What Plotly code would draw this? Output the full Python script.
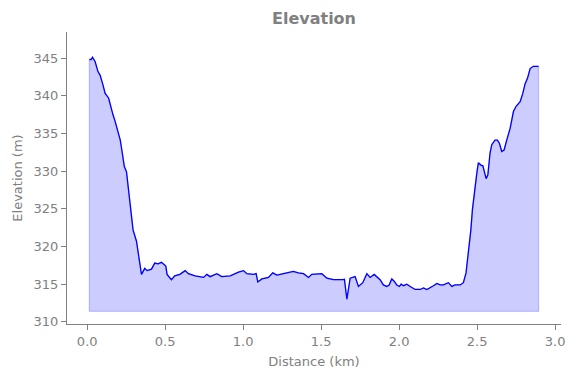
import plotly.graph_objects as go

distance_km = [0.014, 0.025, 0.034, 0.051, 0.069, 0.083, 0.100, 0.115, 0.137, 0.147,
               0.165, 0.179, 0.194, 0.212, 0.222, 0.228, 0.238, 0.252, 0.273, 0.294,
               0.316, 0.348, 0.369, 0.384, 0.412, 0.433, 0.454, 0.476, 0.504, 0.512,
               0.540, 0.561, 0.594, 0.628, 0.649, 0.692, 0.746, 0.767, 0.788, 0.831,
               0.863, 0.917, 0.970, 1.002, 1.024, 1.066, 1.083, 1.094, 1.120, 1.162,
               1.190, 1.216, 1.237, 1.280, 1.322, 1.354, 1.387, 1.419, 1.440, 1.504,
               1.537, 1.579, 1.643, 1.649, 1.665, 1.686, 1.718, 1.739, 1.767, 1.793,
               1.814, 1.840, 1.860, 1.878, 1.899, 1.921, 1.936, 1.953, 1.968, 1.985,
               2.002, 2.013, 2.028, 2.049, 2.071, 2.103, 2.135, 2.156, 2.178, 2.199,
               2.220, 2.242, 2.263, 2.284, 2.316, 2.338, 2.359, 2.391, 2.412, 2.429,
               2.438, 2.449, 2.460, 2.470, 2.483, 2.498, 2.508, 2.524, 2.537, 2.558,
               2.569, 2.583, 2.594, 2.615, 2.630, 2.643, 2.658, 2.673, 2.690, 2.712,
               2.733, 2.750, 2.776, 2.793, 2.808, 2.823, 2.840, 2.861, 2.894]

elevation_m = [344.8, 344.8, 345.1, 344.5, 343.2, 342.7, 341.5, 340.3, 339.7, 338.8,
               337.5, 336.6, 335.5, 334.1, 332.8, 331.9, 330.6, 329.9, 326.2, 322.2,
               320.7, 316.3, 317.1, 316.8, 317.0, 317.8, 317.7, 317.9, 317.4, 316.3,
               315.6, 316.1, 316.3, 316.8, 316.4, 316.1, 315.9, 316.3, 316.0, 316.4,
               316.0, 316.1, 316.6, 316.8, 316.4, 316.3, 316.4, 315.3, 315.7, 315.9,
               316.5, 316.2, 316.3, 316.5, 316.7, 316.5, 316.4, 315.9, 316.3, 316.4,
               315.8, 315.6, 315.6, 315.7, 313.0, 315.8, 316.0, 314.7, 315.2, 316.4,
               315.9, 316.3, 315.9, 315.6, 314.9, 314.7, 314.9, 315.7, 315.4, 314.9,
               314.7, 315.0, 314.8, 315.0, 314.7, 314.3, 314.3, 314.5, 314.3, 314.5,
               314.8, 315.1, 314.9, 314.9, 315.2, 314.7, 314.9, 314.9, 315.2, 316.5,
               318.2, 320.0, 322.2, 324.9, 327.5, 329.7, 331.1, 330.8, 330.7, 329.0,
               329.5, 332.4, 333.5, 334.1, 334.1, 333.7, 332.6, 332.8, 334.1, 335.7,
               337.9, 338.6, 339.2, 340.3, 341.6, 342.3, 343.6, 343.9, 343.9]

fill_base_m = 311.4
x_ticks = [0.0, 0.5, 1.0, 1.5, 2.0, 2.5, 3.0]
y_ticks = [310, 315, 320, 325, 330, 335, 340, 345]

gray = "#808080"
font_family = "DejaVu Sans"

fig = go.Figure()

poly_x = distance_km + [distance_km[-1], distance_km[0], distance_km[0]]
poly_y = elevation_m + [fill_base_m, fill_base_m, elevation_m[0]]
fig.add_trace(go.Scatter(
    x=poly_x, y=poly_y, mode="lines", fill="toself",
    fillcolor="rgba(0,0,255,0.2)",
    line=dict(color="rgba(0,0,255,0.2)", width=1.3),
    hoverinfo="skip", showlegend=False,
))
fig.add_trace(go.Scatter(
    x=distance_km, y=elevation_m, mode="lines",
    line=dict(color="blue", width=1.3),
    showlegend=False,
))

# page body has an 8px margin, so the figure is sized to fit the 576x378 window
fig.update_layout(
    width=568, height=370,
    margin=dict(l=59, r=15, t=24, b=54, autoexpand=False),
    paper_bgcolor="white", plot_bgcolor="white",
    font=dict(family=font_family, color=gray, size=13),
    title=dict(text="<b>Elevation</b>", x=0.5, xref="paper", xanchor="center",
               y=1 - 10 / 370, yref="container", yanchor="middle",
               font=dict(size=16, color=gray, family=font_family)),
)
fig.update_xaxes(
    range=[-0.1296, 3.038], tickvals=x_ticks, tickformat=".1f", automargin=False,
    showgrid=False, zeroline=False, showline=True, linecolor=gray, linewidth=1,
    ticks="outside", ticklen=5, tickcolor=gray, tickwidth=1,
    tickfont=dict(size=13, color=gray),
    title=dict(text="Distance (km)", font=dict(size=13, color=gray), standoff=9),
)
fig.update_yaxes(
    range=[309.72, 348.45], tickvals=y_ticks, automargin=False,
    showgrid=False, zeroline=False, showline=True, linecolor=gray, linewidth=1,
    ticks="outside", ticklen=5, tickcolor=gray, tickwidth=1,
    tickfont=dict(size=13, color=gray),
    title=dict(text="Elevation (m)", font=dict(size=13, color=gray), standoff=8),
)

fig.write_html("out.html")
